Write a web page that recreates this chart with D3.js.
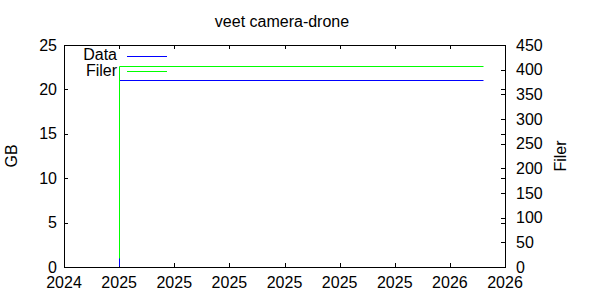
<!DOCTYPE html>
<html>
<head>
<meta charset="utf-8">
<script src="https://cdn.jsdelivr.net/npm/d3@7"></script>
<style>
  body { margin: 0; background: #fff; }
  svg { display: block; font-family: "Liberation Sans", Arial, sans-serif; }
  text { fill: #000; font-size: 16px; }
</style>
</head>
<body>
<svg id="chart" width="600" height="300"></svg>
<script>
// data
const dates = ["2025-02-13T10:00", "2025-02-13T12:00", "2026-02-19T00:00"];
const gbValues = [0.1, 21.1, 21.1];
const fileValues = [18, 407, 407];
const xDomain = ["2024-12-20", "2026-03-13"];
const xTickCount = 9;
const gbTicks = [0, 5, 10, 15, 20, 25];
const fileTicks = [0, 50, 100, 150, 200, 250, 300, 350, 400, 450];
const seriesNames = ["Data", "Filer"];
const seriesColors = ["#0000ff", "#00ff00"];

const parse = d3.isoParse;
const svg = d3.select("#chart");
const plotL = 64, plotR = 505, plotT = 45, plotB = 267;

const x = d3.scaleTime().domain(xDomain.map(parse)).range([plotL, plotR]);
const y = d3.scaleLinear().domain([0, 25]).range([plotB, plotT]);
const y2 = d3.scaleLinear().domain([0, 450]).range([plotB, plotT]);

const [d0, d1] = x.domain();
const step = (d1 - d0) / (xTickCount - 1);
const xTicks = d3.range(xTickCount).map(i => new Date(+d0 + i * step));
const fmt = d3.timeFormat("%Y");

// title
svg.append("text").attr("x", 282).attr("y", 26.5)
    .attr("text-anchor", "middle").text("veet camera-drone");

// frame
svg.append("rect").attr("x", plotL + 0.5).attr("y", plotT + 0.5)
    .attr("width", plotR - plotL).attr("height", plotB - plotT)
    .attr("fill", "none").attr("stroke", "#000").attr("stroke-width", 1);

const tl = 4;
const ticks = svg.append("g").attr("stroke", "#000");

// x ticks bottom + top mirror
xTicks.forEach(t => {
    const px = Math.round(x(t)) + 0.5;
    ticks.append("line").attr("x1", px).attr("x2", px).attr("y1", plotB).attr("y2", plotB - tl);
    ticks.append("line").attr("x1", px).attr("x2", px).attr("y1", plotT).attr("y2", plotT + tl);
});
svg.append("g").selectAll("text").data(xTicks).join("text")
    .attr("x", d => x(d)).attr("y", 288)
    .attr("text-anchor", "middle").text(d => fmt(d));

// left y ticks + mirror on right
gbTicks.forEach(v => {
    const py = Math.round(y(v)) + 0.5;
    ticks.append("line").attr("x1", plotL).attr("x2", plotL + tl).attr("y1", py).attr("y2", py);
    ticks.append("line").attr("x1", plotR).attr("x2", plotR - tl).attr("y1", py).attr("y2", py);
});
svg.append("g").selectAll("text").data(gbTicks).join("text")
    .attr("x", 57).attr("y", d => y(d) + 5.5)
    .attr("text-anchor", "end").text(d => d);

// right y2 ticks
fileTicks.forEach(v => {
    const py = Math.round(y2(v)) + 0.5;
    ticks.append("line").attr("x1", plotR).attr("x2", plotR - tl).attr("y1", py).attr("y2", py);
});
svg.append("g").selectAll("text").data(fileTicks).join("text")
    .attr("x", 516).attr("y", d => y2(d) + 5.5)
    .attr("text-anchor", "start").text(d => d);

// axis labels
svg.append("text").attr("transform", "translate(17,156) rotate(-90)")
    .attr("text-anchor", "middle").text("GB");
svg.append("text").attr("transform", "translate(566,156) rotate(-90)")
    .attr("text-anchor", "middle").text("Filer");

// series (steps like gnuplot output)
const pts = dates.map((d, i) => ({ t: parse(d), gb: gbValues[i], files: fileValues[i] }));
const lineGb = d3.line().x(d => Math.round(x(d.t)) + 0.5).y(d => Math.round(y(d.gb)) + 0.5).curve(d3.curveStepAfter);
const lineFiles = d3.line().x(d => Math.round(x(d.t)) + 0.5).y(d => Math.round(y2(d.files)) + 0.5).curve(d3.curveStepAfter);

svg.append("path").datum(pts).attr("d", lineGb)
    .attr("fill", "none").attr("stroke", seriesColors[0]).attr("stroke-width", 1);
svg.append("path").datum(pts).attr("d", lineFiles)
    .attr("fill", "none").attr("stroke", seriesColors[1]).attr("stroke-width", 1);

// legend
const legend = svg.append("g");
seriesNames.forEach((name, i) => {
    const ly = 55.5 + i * 15.5;
    legend.append("text").attr("x", 117).attr("y", ly + 4.5)
        .attr("text-anchor", "end").text(name);
    legend.append("line").attr("x1", 127).attr("x2", 167)
        .attr("y1", Math.round(ly) + 0.5).attr("y2", Math.round(ly) + 0.5)
        .attr("stroke", seriesColors[i]).attr("stroke-width", 1);
});
</script>
</body>
</html>
